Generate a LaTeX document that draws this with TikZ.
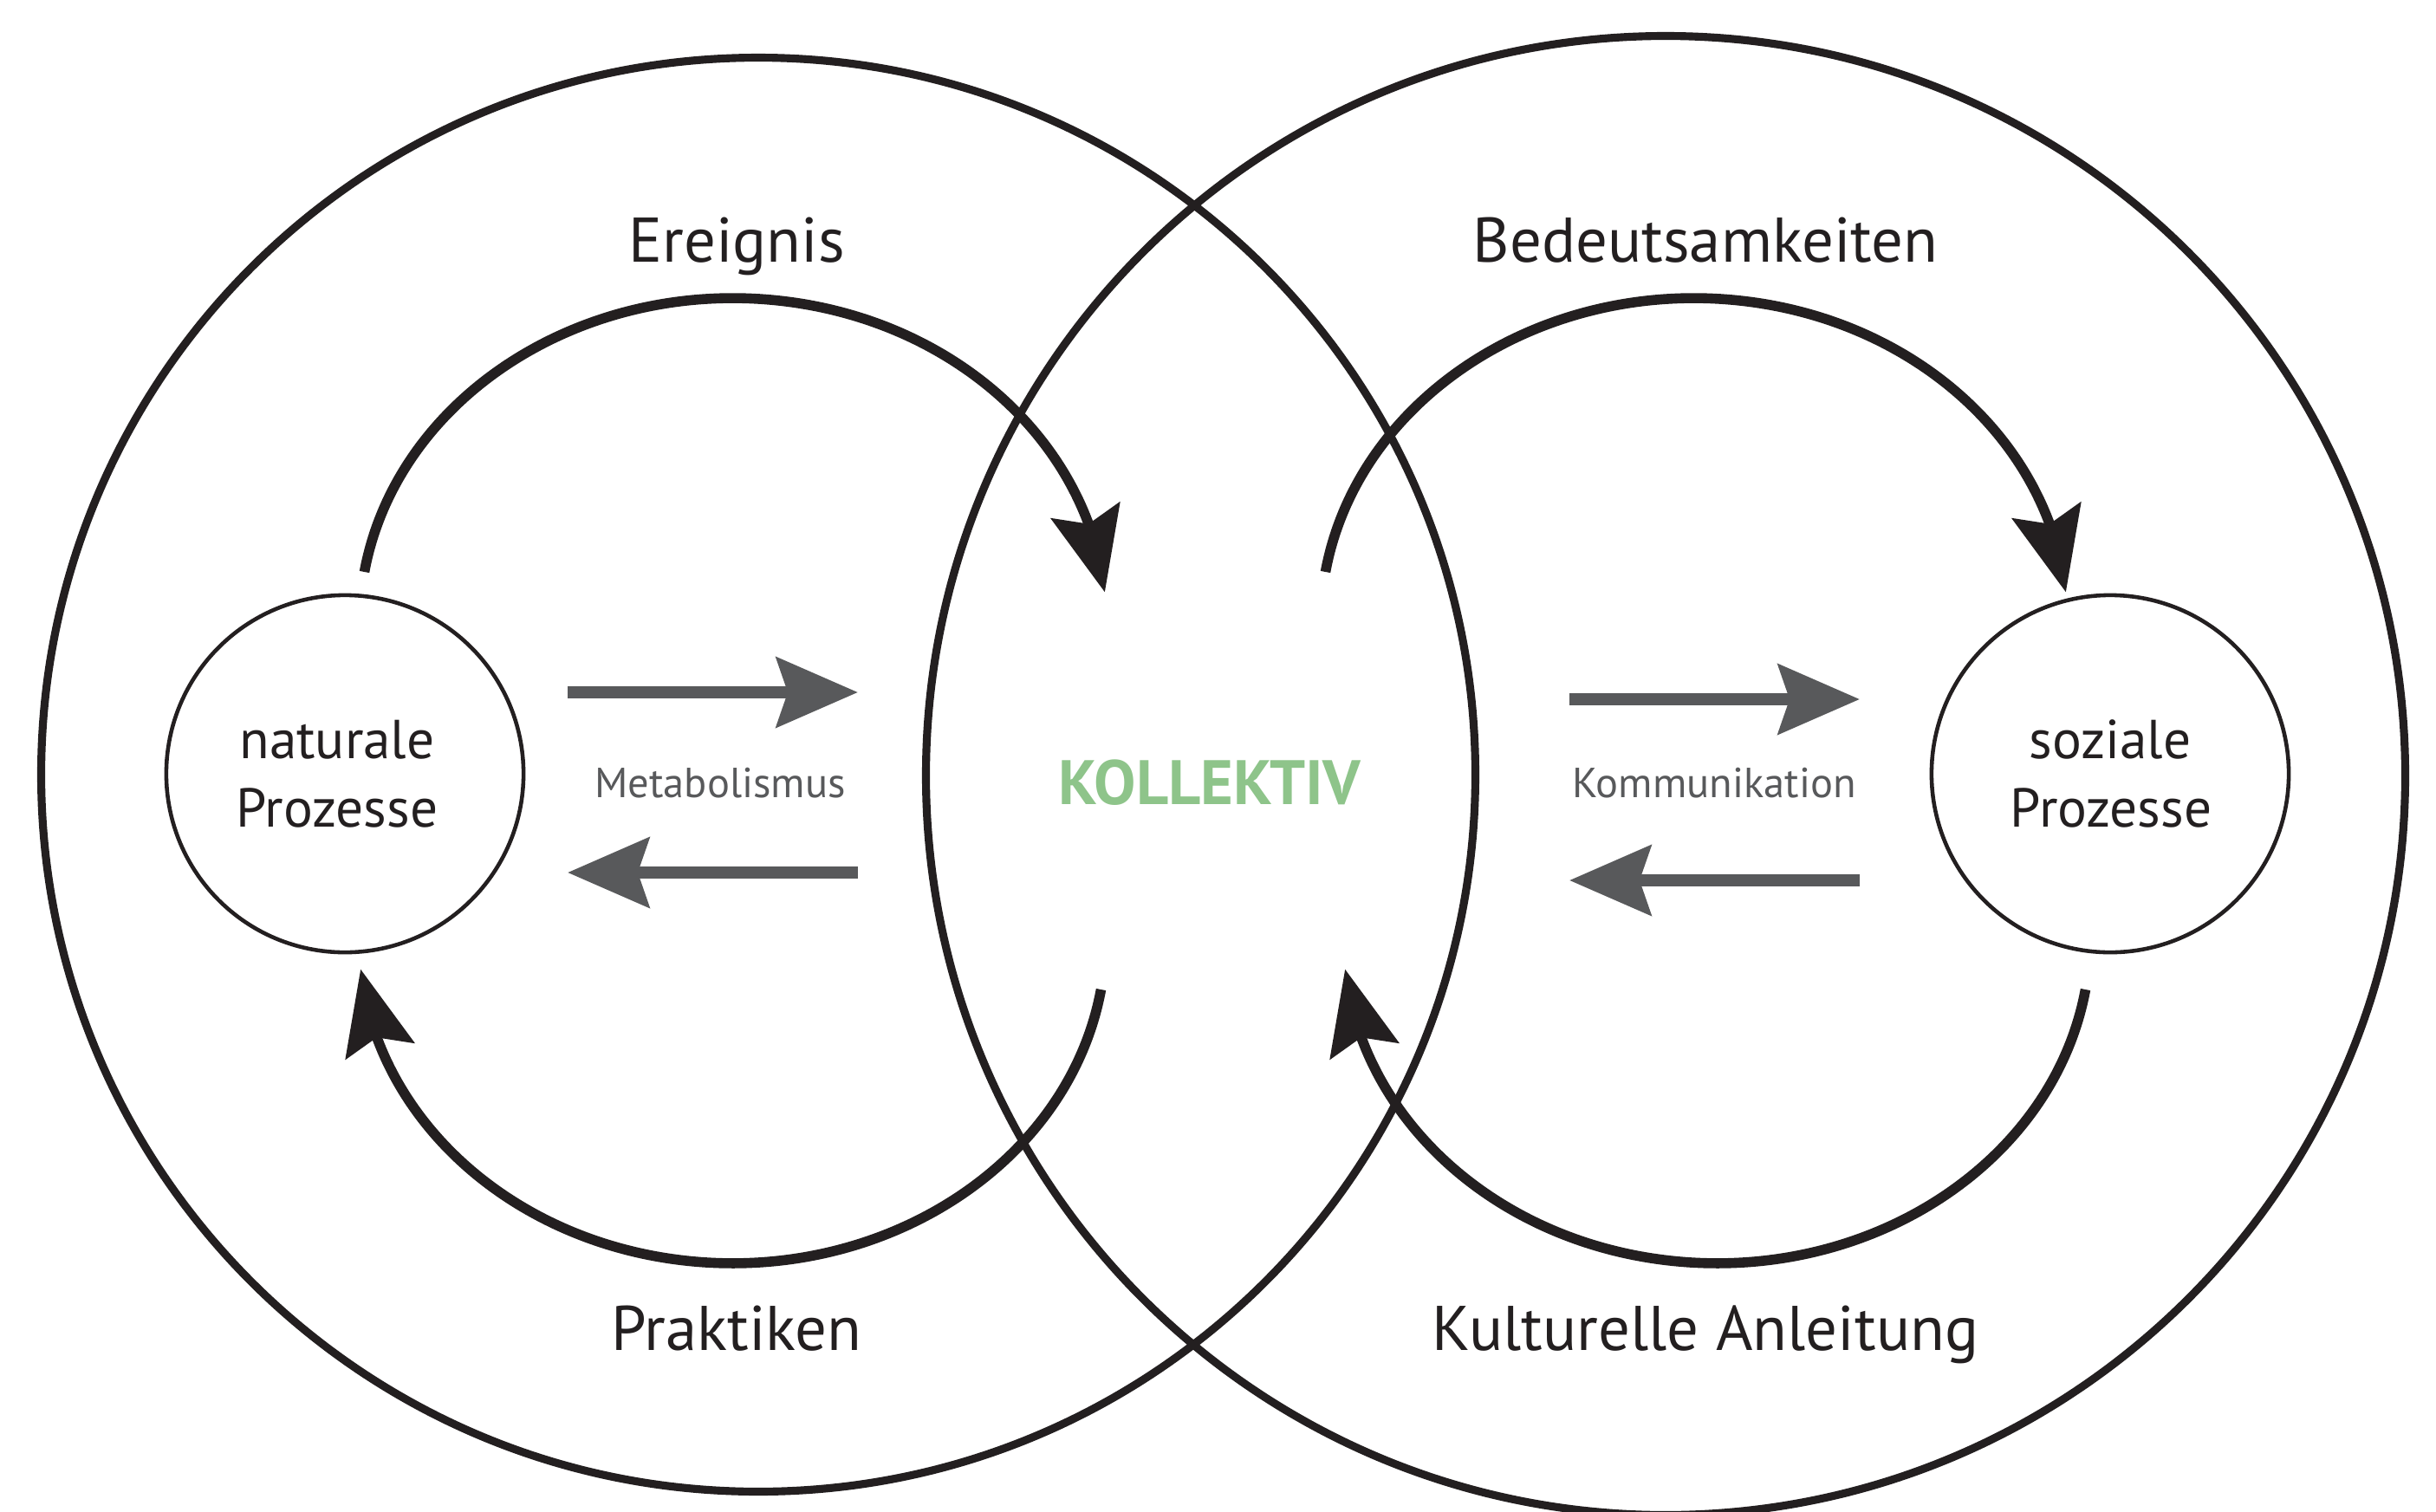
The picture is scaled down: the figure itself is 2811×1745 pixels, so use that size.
\documentclass[tikz,border=0pt]{standalone}
\usepackage{fontspec}
\setmainfont{PT Sans}
\usetikzlibrary{arrows.meta,bending}
\definecolor{ink}{HTML}{231F20}
\definecolor{arrowgray}{HTML}{58595B}
\definecolor{kgreen}{RGB}{142,196,138}
\begin{document}
\begin{tikzpicture}[x=0.01cm,y=-0.01cm,
  bigring/.style={circle,draw=ink,line width=2.6pt,inner sep=0pt},
  smallring/.style={circle,draw=ink,line width=1.3pt,inner sep=0pt,minimum size=4.12cm},
  flowarc/.style={draw=ink,line width=3.3pt,-{Stealth[length=27.5pt,width=23pt,inset=4.5pt]}},
  grayarrow/.style={draw=arrowgray,line width=4pt,-{Stealth[length=26.7pt,width=22.8pt,inset=3.7pt]}},
  biglabel/.style={anchor=base,text=ink,font=\fontsize{20.7}{24}\selectfont,inner sep=0pt},
  proclabel/.style={anchor=base,text=ink,font=\fontsize{18}{21}\selectfont,inner sep=0pt},
  smalllabel/.style={anchor=base,text=arrowgray,font=\fontsize{13.8}{16}\selectfont,inner sep=0pt},
  centerlabel/.style={anchor=base,text=kgreen,font=\bfseries\fontsize{20.6}{24}\selectfont,inner sep=0pt}
]
\useasboundingbox (0,0) rectangle (2811,1745);

% large circles
\node[bigring,minimum size=16.54cm] (leftring) at (875,894) {};
\node[bigring,minimum size=17.06cm] (rightring) at (1922,895) {};

% process circles
\node[smallring] (nat) at (398,893) {};
\node[smallring] (soz) at (2435,893) {};

% texts
\node[proclabel] (nat1) at (389,875) {naturale};
\node[proclabel] (nat2) at (389,954) {Prozesse};
\node[proclabel] (soz1) at (2435,875) {soziale};
\node[proclabel] (soz2) at (2436,954) {Prozesse};

\node[biglabel] (ereignis) at (850,302) {Ereignis};
\node[biglabel] (bedeut) at (1968,302) {Bedeutsamkeiten};
\node[biglabel] (praktiken) at (850,1558) {Praktiken};
\node[biglabel] (kultur) at (1968,1558) {Kulturelle Anleitung};

\node[smalllabel] (metab) at (831,920) {Metabolismus};
\node[smalllabel] (komm) at (1978,920) {Kommunikation};
\node[centerlabel] (koll) at (1396,928) {KOLLEKTIV};

% curved flows
\coordinate (ulstart) at (420.5,660);
\coordinate (urstart) at (1529.5,660);
\coordinate (llstart) at (1270.5,1142);
\coordinate (lrstart) at (2406.5,1142);
\draw[flowarc] (ulstart) arc[start angle=189.2,end angle=354.4,x radius=431,y radius=376];
\draw[flowarc] (urstart) arc[start angle=189.2,end angle=354.4,x radius=431,y radius=376];
\draw[flowarc] (llstart) arc[start angle=9.2,end angle=174.4,x radius=431,y radius=376];
\draw[flowarc] (lrstart) arc[start angle=9.2,end angle=174.4,x radius=431,y radius=376];

% straight gray arrows
\coordinate (m1a) at (655,799);  \coordinate (m1b) at (990,799);
\coordinate (m2a) at (990,1007); \coordinate (m2b) at (655,1007);
\coordinate (k1a) at (1811,807); \coordinate (k1b) at (2146,807);
\coordinate (k2a) at (2146,1016); \coordinate (k2b) at (1811,1016);
\draw[grayarrow] (m1a) -- (m1b);
\draw[grayarrow] (m2a) -- (m2b);
\draw[grayarrow] (k1a) -- (k1b);
\draw[grayarrow] (k2a) -- (k2b);
\end{tikzpicture}
\end{document}
